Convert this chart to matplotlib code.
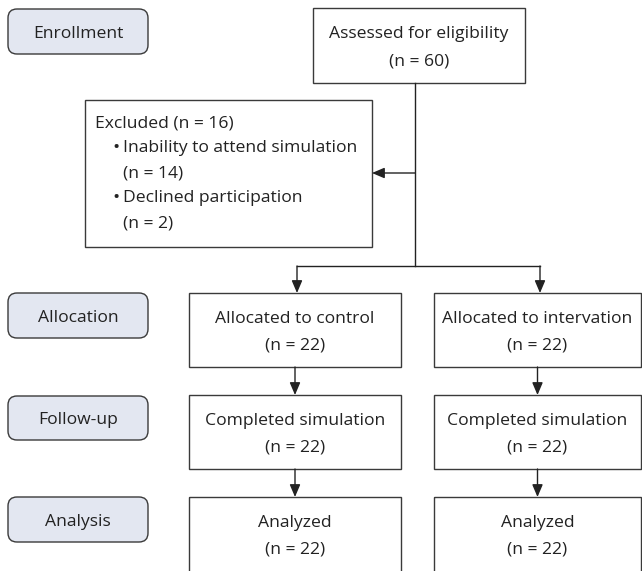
import matplotlib.pyplot as plt
from matplotlib.patches import FancyBboxPatch, Rectangle

plt.rcParams['font.family'] = ['Open Sans', 'DejaVu Sans']

stages = ['Enrollment', 'Allocation', 'Follow-up', 'Analysis']
assessed_n = 60
excluded_n = 16
exclusion_reasons = ['Inability to attend simulation', 'Declined participation']
exclusion_counts = [14, 2]
arm_steps = ['Allocated to control', 'Completed simulation', 'Analyzed']
control_n = [22, 22, 22]
arm_steps_int = ['Allocated to intervation', 'Completed simulation', 'Analyzed']
intervention_n = [22, 22, 22]

W, H = 642, 571
fig = plt.figure(figsize=(W / 100, H / 100), dpi=100)
ax = fig.add_axes([0, 0, 1, 1])
ax.set_xlim(0, W)
ax.set_ylim(H, 0)
ax.axis('off')

edge = '#3a3a3a'
txt = '#222222'
fs = 12.6
lw = 1.0

def box(x0, y0, x1, y1):
    ax.add_patch(Rectangle((x0, y0), x1 - x0, y1 - y0, fill=False,
                           edgecolor=edge, linewidth=lw))

def arrow(x0, y0, x1, y1):
    ax.annotate('', xy=(x1, y1), xytext=(x0, y0),
                arrowprops=dict(arrowstyle='-|>,head_length=0.75,head_width=0.32',
                                color=txt, lw=lw, shrinkA=0, shrinkB=0))

def two_lines(cx, y0, y1, title, n):
    ax.text(cx, y0, title, ha='center', va='center', fontsize=fs, color=txt)
    ax.text(cx, y1, f'(n = {n})', ha='center', va='center', fontsize=fs, color=txt)

# stage labels
stage_y = [(9, 54), (293, 338), (396, 440), (497, 542)]
for name, (y0, y1) in zip(stages, stage_y):
    ax.add_patch(FancyBboxPatch((8, y0), 140, y1 - y0,
                                boxstyle='round,pad=0,rounding_size=9',
                                facecolor='#e3e7f1', edgecolor=edge, linewidth=lw))
    ax.text(78, (y0 + y1) / 2 + 2, name, ha='center', va='center',
            fontsize=fs, color=txt)

# assessed
box(313, 8, 525, 83)
two_lines(419, 34, 62, 'Assessed for eligibility', assessed_n)

# excluded
box(85, 100, 372, 247)
ax.text(95, 123, f'Excluded (n = {excluded_n})', ha='left', va='center',
        fontsize=fs, color=txt)
yy = 148
for reason, c in zip(exclusion_reasons, exclusion_counts):
    ax.text(112, yy, '•', ha='left', va='center', fontsize=fs * 1.1, color=txt)
    ax.text(123, yy, reason, ha='left', va='center', fontsize=fs, color=txt)
    ax.text(123, yy + 25, f'(n = {c})', ha='left', va='center', fontsize=fs, color=txt)
    yy += 50

# main trunk
ax.plot([415, 415], [83, 266], color=txt, lw=lw)
arrow(415, 173, 372, 173)
ax.plot([297, 540], [266, 266], color=txt, lw=lw)
arrow(297, 266, 297, 293)
arrow(540, 266, 540, 293)

# arm boxes
rows = [(293, 367), (395, 469), (497, 580)]
for (lx0, lx1), steps, ns in [((189, 401), arm_steps, control_n),
                              ((434, 641), arm_steps_int, intervention_n)]:
    cx = (lx0 + lx1) / 2
    for i, ((y0, y1), step, n) in enumerate(zip(rows, steps, ns)):
        box(lx0, y0, lx1, y1)
        two_lines(cx, y0 + 26, y0 + 53, step, n)
        if i < len(rows) - 1:
            arrow(cx, y1, cx, rows[i + 1][0])

fig.savefig('out.png', dpi=100)
